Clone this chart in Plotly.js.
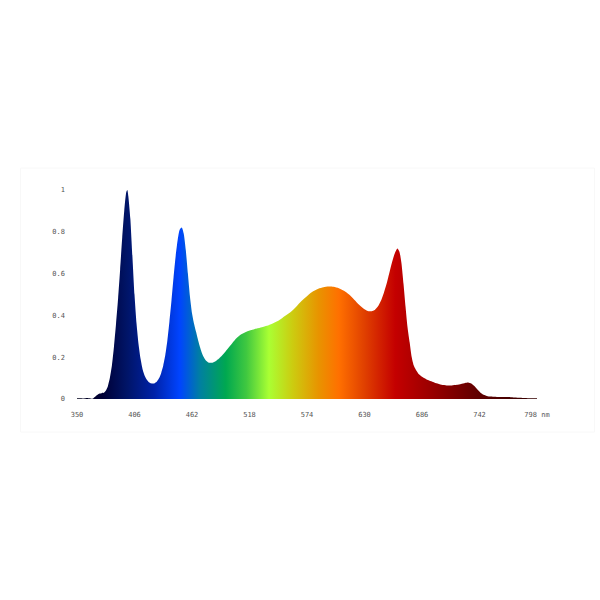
<!DOCTYPE html>
<html>
<head>
<meta charset="utf-8">
<script src="https://cdn.plot.ly/plotly-3.0.1.min.js"></script>
<style>html,body{margin:0;padding:0;background:#fff;}#chart{width:600px;height:600px;}</style>
</head>
<body>
<div id="chart"></div>
<script>
// Wavelength (nm)
var wavelength = [350,353,356,358,360,362,364,366,368,370,372,374,376,378,380,382,384,386,388,390,392,394,396,398,399,400,402,404,406,408,410,412,414,416,418,420,422,424,426,428,430,432,434,436,438,440,442,444,446,448,450,452,454,456,458,460,462,464,466,468,470,472,474,476,478,480,482,484,486,488,490,493,496,500,505,510,515,520,525,530,535,540,545,550,555,560,565,570,575,580,585,590,595,600,605,610,615,620,625,630,634,637,640,643,646,649,652,655,658,660,662,664,666,668,670,672,674,676,678,680,683,686,690,695,700,705,710,715,720,724,728,731,734,737,740,743,746,750,755,760,765,770,775,780,785,790,795,798];
// Relative intensity
var intensity = [0.004,0.003,0.002,0.004,0.005,0.003,0.001,0.004,0.012,0.02,0.026,0.028,0.03,0.04,0.06,0.1,0.16,0.25,0.36,0.48,0.62,0.77,0.9,0.99,1.0,0.97,0.86,0.68,0.5,0.36,0.26,0.19,0.14,0.11,0.092,0.08,0.075,0.074,0.077,0.085,0.1,0.125,0.16,0.21,0.28,0.37,0.47,0.58,0.68,0.76,0.81,0.82,0.79,0.71,0.6,0.49,0.41,0.36,0.32,0.28,0.245,0.215,0.195,0.182,0.175,0.173,0.174,0.178,0.184,0.192,0.202,0.218,0.236,0.26,0.29,0.31,0.322,0.33,0.337,0.343,0.35,0.36,0.372,0.388,0.405,0.425,0.45,0.475,0.497,0.515,0.528,0.535,0.538,0.537,0.53,0.518,0.5,0.475,0.45,0.43,0.42,0.42,0.426,0.442,0.47,0.51,0.56,0.62,0.675,0.703,0.72,0.705,0.65,0.55,0.44,0.34,0.27,0.2,0.16,0.14,0.118,0.106,0.095,0.085,0.075,0.068,0.065,0.065,0.068,0.072,0.077,0.079,0.074,0.062,0.045,0.03,0.02,0.013,0.011,0.01,0.009,0.009,0.007,0.006,0.005,0.004,0.004,0.003];

var xTickVals = [350,406,462,518,574,630,686,742,798];
var xTickText = ['350','406','462','518','574','630','686','742','798 nm'];
var yTickVals = [0,0.2,0.4,0.6,0.8,1];
var yTickText = ['0','0.2','0.4','0.6','0.8','1'];

// spectrum colours by wavelength
var spectrumNm = [350,375,398,425,450,470,495,515,537,560,585,605,630,660,690,740,798];
var spectrumColors = ['#000018','#000036','#001466','#0022a8','#0044ff','#0080a0','#00a850','#40c840','#aaff33','#cccc10','#e89400','#ff7000','#e04000','#c40000','#a00000','#600000','#300000'];

var nmMin = wavelength[0], nmMax = wavelength[wavelength.length-1];
var colorscale = spectrumNm.map(function(n,i){ return [(n-nmMin)/(nmMax-nmMin), spectrumColors[i]]; });

var trace = {
  x: wavelength, y: intensity, type: 'scatter', mode: 'lines',
  line: {width: 0.5, color: 'rgba(0,0,0,0)', shape: 'spline', smoothing: 0.6},
  fill: 'tozeroy',
  fillgradient: {type: 'horizontal', start: nmMin, stop: nmMax, colorscale: colorscale},
  hoverinfo: 'x+y'
};

var tickFont = {family: 'DejaVu Sans Mono, Liberation Mono, monospace', size: 7, color: '#555555'};

var layout = {
  width: 600, height: 600,
  margin: {l: 76.5, r: 62.7, t: 190, b: 201},
  paper_bgcolor: '#ffffff', plot_bgcolor: '#ffffff',
  showlegend: false,
  xaxis: {range: [nmMin, nmMax], tickvals: xTickVals, ticktext: xTickText, showgrid: false, zeroline: false, showline: false, ticks: '', tickfont: tickFont, ticklabelstandoff: 10, fixedrange: true},
  yaxis: {range: [0, 1], tickvals: yTickVals, ticktext: yTickText, showgrid: false, zeroline: false, showline: false, ticks: '', tickfont: tickFont, ticklabelstandoff: 11, fixedrange: true},
  shapes: [{type: 'rect', xref: 'paper', yref: 'paper', x0: -0.1226, x1: 1.125, y0: -0.158, y1: 1.105, line: {color: '#f8f8f8', width: 1}, layer: 'below'}]
};

Plotly.newPlot('chart', [trace], layout, {displayModeBar: false, staticPlot: true});
</script>
</body>
</html>
